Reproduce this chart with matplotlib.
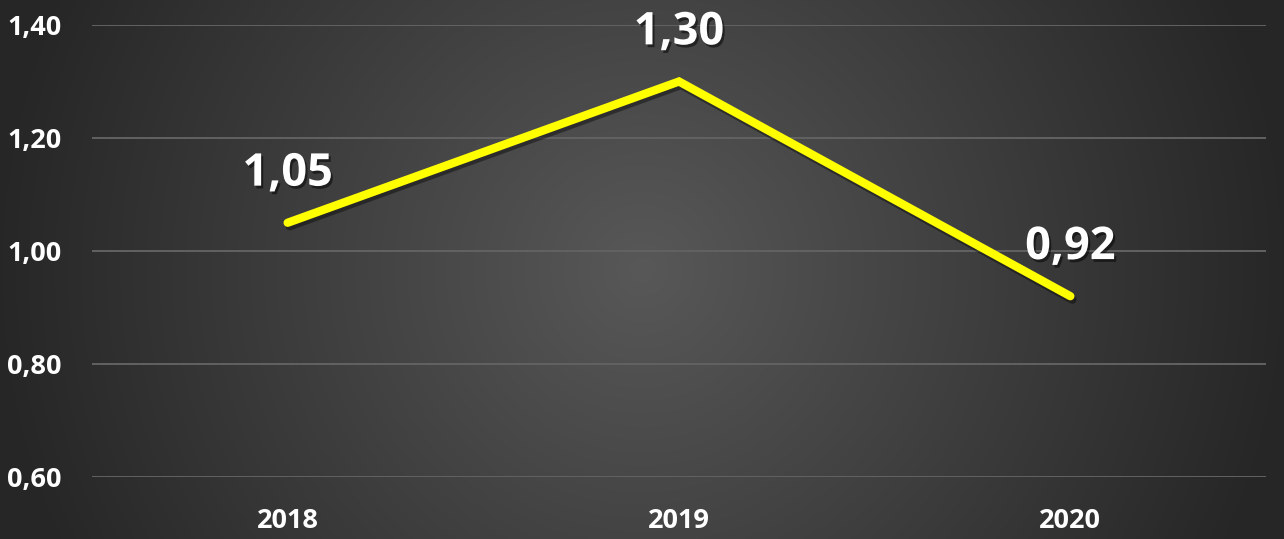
import numpy as np
import matplotlib
matplotlib.use("Agg")
import matplotlib.pyplot as plt
import matplotlib.patheffects as pe

years = ["2018", "2019", "2020"]
values = [1.05, 1.30, 0.92]
labels = ["1,05", "1,30", "0,92"]
yticks = [0.60, 0.80, 1.00, 1.20, 1.40]
ytick_labels = ["0,60", "0,80", "1,00", "1,20", "1,40"]

W, H = 1284, 539
fig = plt.figure(figsize=(W / 100, H / 100), dpi=100)

# radial gradient background
bg = fig.add_axes([0, 0, 1, 1], zorder=0)
yy, xx = np.mgrid[0:H, 0:W]
cx, cy = W * 0.5, H * 0.5
r = np.sqrt(((xx - cx) / (W * 0.62)) ** 2 + ((yy - cy) / (W * 0.62)) ** 2)
r = np.clip(r / 0.82, 0, 1)
c_center = np.array([0x58, 0x58, 0x58]) / 255
c_edge = np.array([0x26, 0x26, 0x26]) / 255
img = c_center[None, None, :] * (1 - r[..., None]) + c_edge[None, None, :] * r[..., None]
bg.imshow(img, aspect="auto", extent=[0, 1, 0, 1], origin="upper")
bg.axis("off")

ax = fig.add_axes([92 / W, 1 - 477 / H, (1266 - 92) / W, (477 - 25) / H], zorder=1)
ax.patch.set_alpha(0)
ax.set_xlim(-0.5, 2.5)
ax.set_ylim(0.60, 1.40)
for s in ax.spines.values():
    s.set_visible(False)
ax.set_yticks(yticks)
ax.set_yticklabels(ytick_labels)
ax.set_xticks(range(len(years)))
ax.set_xticklabels(years)
ax.tick_params(length=0, colors="white")
ax.tick_params(axis="y", pad=22)
ax.tick_params(axis="x", pad=22)
for t in ax.get_yticklabels() + ax.get_xticklabels():
    t.set_fontfamily("Open Sans")
    t.set_fontweight("bold")
    t.set_fontsize(19.5)
    t.set_color("white")
ax.grid(axis="y", color="#626262", linewidth=1.4)
ax.set_axisbelow(True)

x = np.arange(len(years))
ax.plot(x, values, color="#FFFF00", linewidth=6, solid_capstyle="round",
        solid_joinstyle="miter", zorder=3,
        path_effects=[pe.SimpleLineShadow(offset=(1.5, -2.5), shadow_color="black", alpha=0.4), pe.Normal()])

for xi, v, lab in zip(x, values, labels):
    ax.annotate(lab, (xi, v), xytext=(0, 35), textcoords="offset points",
                ha="center", va="center", fontsize=32.5, fontweight="bold",
                fontfamily="Open Sans", color="white", zorder=4,
                path_effects=[pe.withSimplePatchShadow(offset=(1.5, -2), shadow_rgbFace="black", alpha=0.5)])

fig.savefig("out.png", dpi=100)
